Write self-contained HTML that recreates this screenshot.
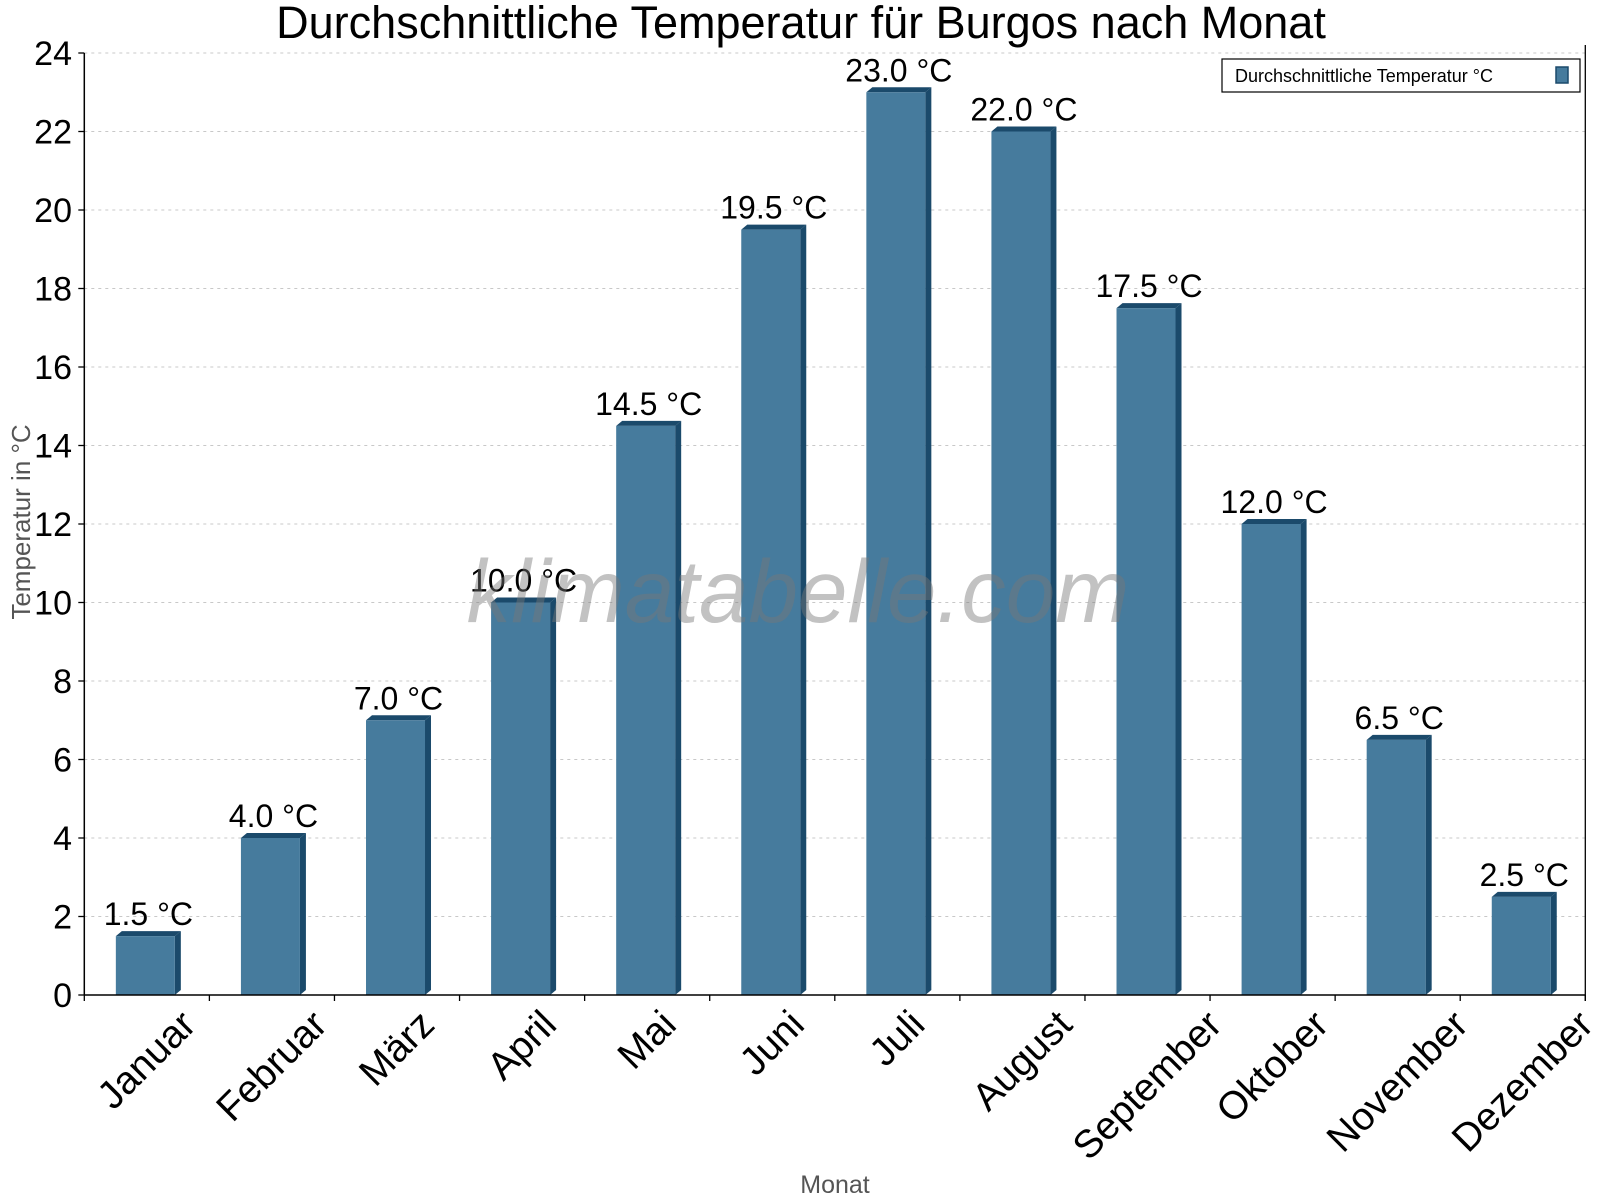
<!DOCTYPE html>
<html><head><meta charset="utf-8"><style>
html,body{margin:0;padding:0;background:#fff;}
svg{display:block;font-family:"Liberation Sans",Arial,sans-serif;}
</style></head><body>
<svg id="chart" width="1600" height="1200" viewBox="0 0 1600 1200">
<text x="801" y="38" font-size="45" text-anchor="middle" fill="#000">Durchschnittliche Temperatur für Burgos nach Monat</text>
<g id="grid"></g>
<g id="bars"></g>
<g id="axes"></g>
<text transform="translate(30,522) rotate(-90)" font-size="26" fill="#555" text-anchor="middle">Temperatur in °C</text>
<text x="835" y="1193" font-size="25" fill="#555" text-anchor="middle">Monat</text>
<g>
<rect x="1222" y="59" width="358" height="33" fill="#fff" stroke="#000" stroke-width="1.2"/>
<text x="1235" y="82" font-size="18" fill="#000">Durchschnittliche Temperatur °C</text>
<rect x="1556" y="67" width="12" height="16" fill="#467b9d" stroke="#1b4a6b" stroke-width="1.5"/>
</g>
<text x="798" y="622" font-size="89" font-style="italic" fill="#777" fill-opacity="0.45" text-anchor="middle">klimatabelle.com</text>
</svg>
<script>
const categories = ["Januar","Februar","März","April","Mai","Juni","Juli","August","September","Oktober","November","Dezember"];
const values = [1.5,4.0,7.0,10.0,14.5,19.5,23.0,22.0,17.5,12.0,6.5,2.5];
const yTicks = [0,2,4,6,8,10,12,14,16,18,20,22,24];

const NS = "http://www.w3.org/2000/svg";
const X0 = 84.3, X1 = 1585.3, Y0 = 995, Y1 = 53, YMAX = 24;
const cw = (X1 - X0) / categories.length;
function yScale(v){ return Y0 - (v / YMAX) * (Y0 - Y1); }
function xCat(i){ return X0 + i * cw; }
function mk(tag, attrs, parent){ const e = document.createElementNS(NS, tag); for (const k in attrs) e.setAttribute(k, attrs[k]); parent.appendChild(e); return e; }

const grid = document.getElementById('grid');
const axes = document.getElementById('axes');
const bars = document.getElementById('bars');

yTicks.forEach(t => {
  const y = yScale(t);
  if (t > 0) {
    const g = mk('line', {x1: X0, x2: X1, y1: y, y2: y, stroke: '#c8c8c8', 'stroke-width': 1, 'stroke-dasharray': '3,4'}, grid);
    
    
  }
  const tk = mk('line', {x1: X0 - 6, x2: X0, y1: y, y2: y, stroke: '#000', 'stroke-width': 1.3}, axes);
  
  
  const lb = mk('text', {x: 72, y: y + 12, 'font-size': 34, 'text-anchor': 'end', fill: '#000'}, axes);
  lb.textContent = t;
  
  
});

const yAxis = mk('line', {x1: X0, x2: X0, y1: Y1, y2: Y0, stroke: '#000', 'stroke-width': 1.5}, axes);


const xAxis = mk('line', {x1: X0, x2: X1, y1: Y0, y2: Y0, stroke: '#000', 'stroke-width': 1.5}, axes);


const rBorder = mk('line', {x1: X1, x2: X1, y1: Y1 - 8, y2: Y0 + 6, stroke: '#000', 'stroke-width': 1.3}, axes);



for (let i = 0; i <= categories.length; i++) {
  const x = xCat(i);
  const tk = mk('line', {x1: x, x2: x, y1: Y0, y2: Y0 + 6, stroke: '#000', 'stroke-width': 1.3}, axes);
  
  
}

const bw = 59, depth = 6, rise = 5;
categories.forEach((c, i) => {
  const left = xCat(i) + cw / 2 - bw / 2 - 1.5;
  const top = yScale(values[i]);
  const g = mk('g', {}, bars);
  
  
  mk('polygon', {points: `${left+bw},${top} ${left+bw+depth},${top-rise} ${left+bw+depth},${Y0-rise} ${left+bw},${Y0}`, fill: '#1b4a6b'}, g);
  mk('polygon', {points: `${left},${top} ${left+depth},${top-rise} ${left+bw+depth},${top-rise} ${left+bw},${top}`, fill: '#1b4a6b'}, g);
  mk('rect', {x: left, y: top, width: bw, height: Y0 - top, fill: '#467b9d'}, g);
  const vl = mk('text', {x: left + bw / 2 + 3, y: top - 11, 'font-size': 32, 'text-anchor': 'middle', fill: '#000'}, bars);
  vl.textContent = values[i].toFixed(1) + ' °C';
  
  
  const cx = xCat(i) + cw / 2;
  const xl = mk('text', {x: cx, y: 1030, 'font-size': 39, 'text-anchor': 'middle', 'dominant-baseline': 'central', fill: '#000'}, axes);
  xl.textContent = c;
  
  
  const L = xl.getComputedTextLength();
  const cy = 1018 + 0.354 * L;
  xl.setAttribute('y', cy);
  xl.setAttribute('transform', `rotate(-45 ${cx} ${cy})`);
});
</script>
</body></html>
